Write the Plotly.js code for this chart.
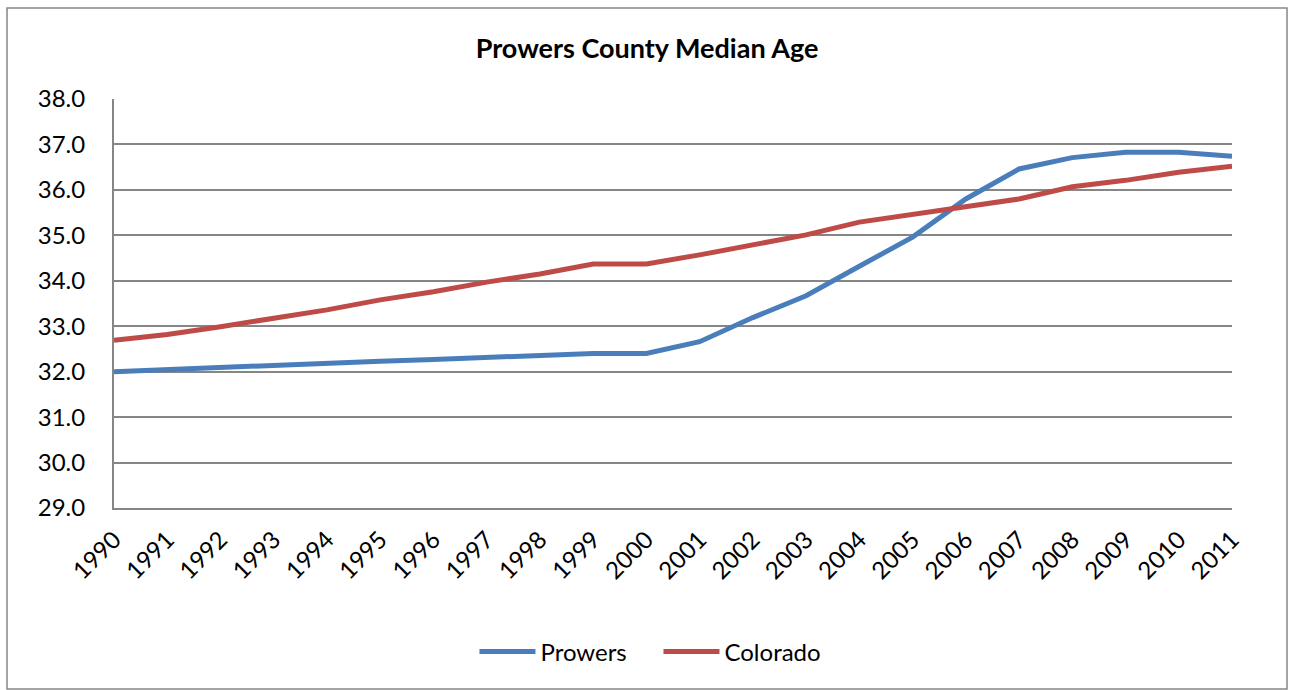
<!DOCTYPE html>
<html>
<head>
<meta charset="utf-8">
<script src="https://cdn.plot.ly/plotly-3.0.1.min.js"></script>
<style>html,body{margin:0;padding:0;background:#fff;} #chart{width:1289px;height:690px;}</style>
</head>
<body>
<div id="chart"></div>
<script>
const years = ['1990','1991','1992','1993','1994','1995','1996','1997','1998','1999','2000','2001','2002','2003','2004','2005','2006','2007','2008','2009','2010','2011'];
const prowers = [32.0,32.05,32.1,32.14,32.18,32.23,32.27,32.31,32.36,32.4,32.4,32.66,33.19,33.67,34.32,34.96,35.8,36.46,36.71,36.83,36.83,36.74];
const colorado = [32.69,32.82,32.99,33.18,33.36,33.58,33.76,33.97,34.15,34.37,34.37,34.57,34.79,35.01,35.29,35.46,35.65,35.8,36.07,36.21,36.39,36.52];
const yTicks = [29,30,31,32,33,34,35,36,37,38];

const font = "Lato, 'Open Sans', sans-serif";
const traces = [
  {x: years, y: prowers, name: 'Prowers', type: 'scatter', mode: 'lines', line: {color: '#4A7EBB', width: 5}},
  {x: years, y: colorado, name: 'Colorado', type: 'scatter', mode: 'lines', line: {color: '#BE4B48', width: 5}}
];
const layout = {
  width: 1289, height: 690,
  margin: {l: 114, r: 57, t: 99, b: 182},
  paper_bgcolor: '#fff', plot_bgcolor: '#fff',
  font: {family: font, color: '#000', size: 24},
  title: {text: '<b>Prowers County Median Age</b>', x: 0.502, xanchor: 'center', y: 0.93, yanchor: 'middle', font: {family: font, size: 27, color: '#000'}},
  xaxis: {type: 'category', tickangle: -45, showgrid: false, showline: true, linecolor: '#868686', linewidth: 2,
          ticks: '', range: [0, years.length - 1], tickfont: {family: font, size: 24}, ticklabelstandoff: 6},
  yaxis: {range: [29, 38], tickvals: yTicks, ticktext: yTicks.map(v => v.toFixed(1)), showgrid: true, gridcolor: '#868686', gridwidth: 2,
          showline: true, linecolor: '#868686', linewidth: 2, ticks: '', zeroline: false, tickfont: {family: font, size: 24}, ticklabelstandoff: 22},
  showlegend: true,
  legend: {orientation: 'h', x: 0.487, xanchor: 'center', y: -0.352, yanchor: 'middle', font: {family: font, size: 24}, traceorder: 'normal',
           entrywidth: 113, entrywidthmode: 'pixels', itemwidth: 56},
  shapes: [
    {type: 'rect', xref: 'paper', yref: 'paper', x0: -0.0957, x1: 1.0492, y0: -0.4425, y1: 1.2225, line: {color: '#868686', width: 1.5}, fillcolor: 'rgba(0,0,0,0)'}
  ]
};
Plotly.newPlot('chart', traces, layout, {displayModeBar: false, staticPlot: true});
</script>
</body>
</html>
